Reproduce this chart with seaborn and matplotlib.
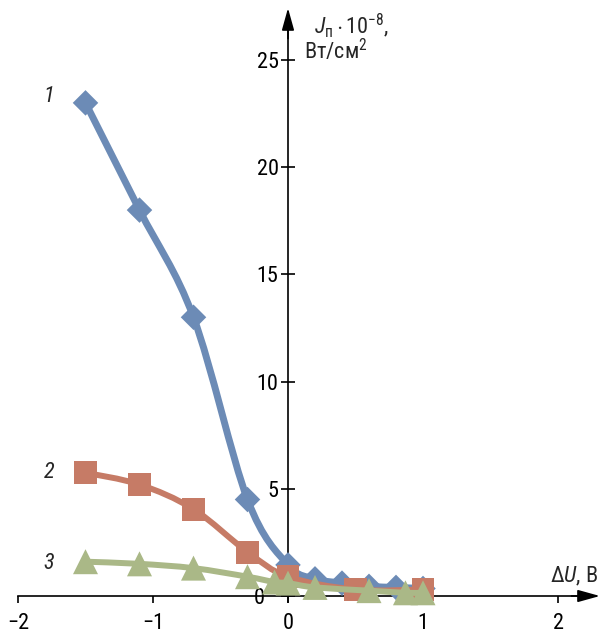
import numpy as np
import matplotlib
matplotlib.use("Agg")
import matplotlib.pyplot as plt
import matplotlib.transforms as mtransforms
from matplotlib import font_manager
from matplotlib.path import Path
from matplotlib.patches import PathPatch
import seaborn as sns
import pandas as pd

# Current density J_п (×10^-8 W/cm²) versus bias ΔU (V) for three samples
x1 = [-1.5, -1.1, -0.7, -0.3, 0.0, 0.2, 0.4, 0.6, 0.8, 1.0]
y1 = [23.0, 18.0, 13.0, 4.5, 1.45, 0.8, 0.6, 0.45, 0.4, 0.35]

x2 = [-1.5, -1.1, -0.7, -0.3, 0.0, 0.5, 1.0]
y2 = [5.75, 5.2, 4.05, 2.05, 0.9, 0.3, 0.3]

x3 = [-1.5, -1.1, -0.7, -0.3, -0.1, 0.0, 0.2, 0.6, 0.87, 1.0]
y3 = [1.6, 1.5, 1.3, 0.9, 0.65, 0.6, 0.4, 0.25, 0.15, 0.15]

curve_labels = ["1", "2", "3"]
x_ticks = [-2, -1, 0, 1, 2]
y_ticks = [0, 5, 10, 15, 20, 25]

sns.set_theme(style="white")
names = {f.name for f in font_manager.fontManager.ttflist}
base = next((n for n in ("Roboto Condensed", "Liberation Sans Narrow", "Liberation Sans")
             if n in names), "DejaVu Sans")
plt.rcParams["font.family"] = [base, "DejaVu Sans"]
plt.rcParams["mathtext.fontset"] = "custom"
plt.rcParams["mathtext.rm"] = base
plt.rcParams["mathtext.it"] = base + ":italic"

BLUE = "#6c8bb6"
RED = "#c67b66"
GREEN = "#aab887"
FS = 16

fig = plt.figure(figsize=(6.02, 6.36), dpi=100)
ax = fig.add_axes([0, 0, 1, 1])
ax.set_facecolor("white")
ax.set_xlim(-288 / 135, (602 - 288) / 135)
ax.set_ylim(-40 / 21.44, 596 / 21.44)


def smooth_path(xs, ys, tension=1 / 6):
    """Catmull-Rom curve through the points, expressed as cubic Bezier segments."""
    p = np.column_stack([xs, ys]).astype(float)
    sx, sy = 135.0, 21.44  # work in screen-like proportions
    q = p * [sx, sy]
    verts = [tuple(p[0])]
    codes = [Path.MOVETO]
    n = len(q)
    for i in range(n - 1):
        p0 = q[i - 1] if i > 0 else q[i]
        p1, p2 = q[i], q[i + 1]
        p3 = q[i + 2] if i + 2 < n else q[i + 1]
        c1 = p1 + (p2 - p0) * tension
        c2 = p2 - (p3 - p1) * tension
        for v in (c1, c2, p2):
            verts.append(tuple(v / [sx, sy]))
        codes += [Path.CURVE4] * 3
    return Path(verts, codes)


series = [
    (x1, y1, BLUE, "D", 13.0, 5.0, 2),
    (x2, y2, RED, "s", 16.5, 4.3, 3),
    (x3, y3, GREEN, "^", 18.0, 4.3, 4),
]
for xs, ys, col, mk, ms, lw, z in series:
    ax.add_patch(PathPatch(smooth_path(xs, ys), fill=False, edgecolor=col,
                           lw=lw, zorder=z, capstyle="round", joinstyle="round"))
    df = pd.DataFrame({"x": xs, "y": ys})
    sns.scatterplot(data=df, x="x", y="y", ax=ax, marker=mk, s=ms ** 2,
                    color=col, edgecolor="none", linewidth=0, zorder=z + 0.5)

# Axes crossing at the origin
for s in ("top", "right"):
    ax.spines[s].set_visible(False)
ax.spines["left"].set_position(("data", 0))
ax.spines["bottom"].set_position(("data", 0))
ax.spines["left"].set_bounds(-0.3, 27.0)
ax.spines["bottom"].set_bounds(-2.0, 2.2)
for s in ("left", "bottom"):
    ax.spines[s].set_color("black")
    ax.spines[s].set_linewidth(1.2)
    ax.spines[s].set_zorder(1)

ax.annotate("", xy=(2.31, 0), xytext=(2.1, 0),
            arrowprops=dict(arrowstyle="-|>,head_length=0.9,head_width=0.25",
                            mutation_scale=15, color="black", lw=1.2,
                            shrinkA=0, shrinkB=0), zorder=1)
ax.annotate("", xy=(0, 27.42), xytext=(0, 26.0),
            arrowprops=dict(arrowstyle="-|>,head_length=0.9,head_width=0.25",
                            mutation_scale=15, color="black", lw=1.2,
                            shrinkA=0, shrinkB=0), zorder=1)

ax.set_xticks(x_ticks)
ax.set_xticklabels(["\u22122", "\u22121", "0", "1", "2"])
ax.set_yticks(y_ticks)
ax.set_yticklabels([str(v) for v in y_ticks])
ax.tick_params(axis="x", direction="out", length=5, width=1.2, colors="black",
               labelsize=FS, pad=7, bottom=True)
ax.tick_params(axis="y", direction="inout", length=9.5, width=1.2, colors="black",
               labelsize=FS, pad=2, left=True)
ax.set_xlabel("")
ax.set_ylabel("")
ax.grid(False)

# The "0" on the vertical axis sits a little further left, clear of the markers
zero_label = ax.get_yticklabels()[0]
zero_label.set_transform(zero_label.get_transform() +
                         mtransforms.ScaledTranslation(-10 / 72, 0, fig.dpi_scale_trans))

# Axis titles
ax.text(0.19, 26.6, r"$\mathit{J}_{\mathrm{п}}\cdot10^{-8}$,", fontsize=FS,
        ha="left", va="center")
ax.text(0.12, 25.4, r"Вт/см$^{2}$", fontsize=FS, ha="left", va="center")
ax.text(2.30, 0.9, "$\u2206\\mathit{U}$, В", fontsize=FS, ha="right", va="center")

# Curve numbers
for lab, (lx, ly) in zip(curve_labels, [(-1.77, 23.3), (-1.77, 5.75), (-1.77, 1.5)]):
    ax.text(lx, ly, lab, fontsize=FS, style="italic", ha="center", va="center")

fig.savefig("out.png", dpi=100)
